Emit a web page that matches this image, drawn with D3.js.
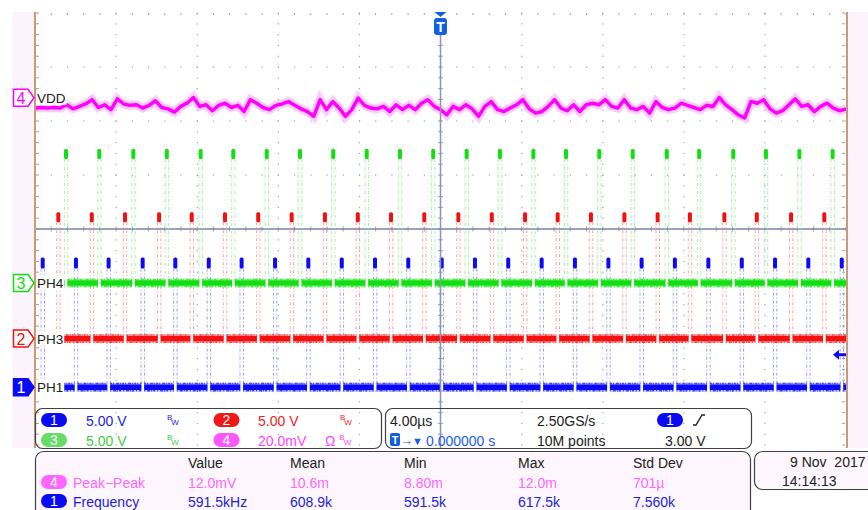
<!DOCTYPE html>
<html><head><meta charset="utf-8">
<script src="https://cdnjs.cloudflare.com/ajax/libs/d3/7.8.5/d3.min.js"></script>
<style>
body{margin:0;background:#fff;}
text{font-family:"Liberation Sans",Arial,sans-serif;}
</style></head><body>
<script>
// pulse centres in µs (trigger = 0)
var ph1Pulses = [-19.62,-17.98,-16.37,-14.69,-13.08,-11.43,-9.81,-8.16,-6.52,-4.87,-3.23,-1.59,0.06,1.70,3.34,4.99,6.63,8.28,9.92,11.56,13.21,14.86,16.50,18.14,19.79];
var ph3Pulses = [-18.85,-17.20,-15.56,-13.88,-12.27,-10.63,-8.99,-7.34,-5.70,-4.08,-2.44,-0.80,0.88,2.53,4.17,5.78,7.42,9.07,10.71,12.30,14.00,15.60,17.29,18.93];
var ph4Pulses = [-18.47,-16.83,-15.15,-13.50,-11.83,-10.22,-8.57,-6.93,-5.29,-3.64,-2.00,-0.36,1.29,2.93,4.58,6.19,7.83,9.48,11.16,12.76,14.44,16.05,17.70,19.34];
// VDD ripple, mV, sampled evenly across the screen
var vddRipple = [-3.8,-3.6,-3.8,-3.6,-3.8,-2.6,-4.1,-3.2,-2.3,-0.7,-3.6,-2.6,-4.4,-0.4,-2.3,-2.8,-2.6,-3.8,-2.8,-1.1,-3.6,-4.1,-5.3,-3.2,-2.0,0.1,-3.2,-2.6,-4.8,-2.8,-2.0,-3.6,-2.8,-5.1,-0.7,-2.0,-3.6,-4.4,-2.8,-2.3,-1.4,-2.8,-4.1,-5.1,
  -6.9,-0.7,-4.4,-1.4,-3.8,-6.9,-4.4,-0.1,-2.8,-3.8,-4.1,-3.2,-5.1,-2.6,-4.4,-2.8,-4.4,-2.0,-0.7,-3.2,-4.4,-6.3,-3.2,-4.4,-2.6,-4.1,-6.9,-3.2,-1.4,-4.4,-5.1,-3.8,-2.6,-0.7,-4.1,-5.7,-5.1,-3.2,-0.7,-3.8,-4.8,-2.6,
  -5.1,-2.6,-2.0,-2.6,-0.7,-3.2,-3.8,-0.7,-3.8,-4.4,-3.2,-5.7,-1.4,-3.6,-4.4,-3.8,-2.0,-2.8,-3.6,-4.4,-2.8,-3.2,0.1,-2.6,-4.4,-6.3,-7.5,-1.4,-2.0,-0.7,-4.1,-5.7,-4.8,-2.6,-0.4,-3.2,-2.6,-5.1,-3.2,-2.0,-3.8,-4.8,-4.1];
var pulseAmps = [12.0, 11.7, 12.4]; // V : PH1, PH3, PH4
var measCols = ["Value","Mean","Min","Max","Std Dev"];
var peakPeak = ["12.0mV","10.6m","8.80m","12.0m","701µ"];
var frequency = ["591.5kHz","608.9k","591.5k","617.5k","7.560k"];

var svg = d3.select("body").append("svg").attr("width",868).attr("height",510),
    x = d3.scaleLinear().domain([-20,20]).range([35,846]),
    dv = d3.scaleLinear().domain([-4,4]).range([445,13]),
    gridCol = "#9aa2be";

var chans = [
  {n:"1", name:"PH1", col:"#0a0af5", light:"#8a8aff", pos:-2.93, vdiv:5, pulses:ph1Pulses, amp:pulseAmps[0], cap:11},
  {n:"2", name:"PH3", col:"#f51010", light:"#ff8f8f", pos:-2.03, vdiv:5, pulses:ph3Pulses, amp:pulseAmps[1], cap:10},
  {n:"3", name:"PH4", col:"#10e010", light:"#90f590", pos:-1.0, vdiv:5, pulses:ph4Pulses, amp:pulseAmps[2], cap:10}
];
var vdd = {n:"4", name:"VDD", col:"#ff00ff", light:"#ff99ff", pos:2.43, vdiv:20};

function yv(ch, v) { return dv(ch.pos + v / ch.vdiv); }

// side strips
svg.append("rect").attr("x",13).attr("y",12).attr("width",22).attr("height",436).attr("fill","#fdf3fd");
svg.append("rect").attr("x",847).attr("y",12).attr("width",21).attr("height",436).attr("fill","#fdf3fd");

// graticule
var grid = svg.append("g").attr("fill",gridCol);
var minorT = d3.range(-20,20.01,0.8), minorV = d3.range(-4,4.01,0.2);
d3.range(-16,17,4).forEach(function(t) {
  if (t === 0) return;
  minorV.forEach(function(v){ grid.append("rect").attr("x",x(t)-0.5).attr("y",dv(v)-0.5).attr("width",1.2).attr("height",1.2); });
});
d3.range(-3,4,1).forEach(function(v) {
  if (v === 0) return;
  minorT.forEach(function(t){ grid.append("rect").attr("x",x(t)-0.5).attr("y",dv(v)-0.5).attr("width",1.2).attr("height",1.2); });
});
minorV.forEach(function(v){
  grid.append("rect").attr("x",36).attr("y",dv(v)-0.5).attr("width",3).attr("height",1);
  grid.append("rect").attr("x",842).attr("y",dv(v)-0.5).attr("width",3).attr("height",1);
  grid.append("rect").attr("x",x(0)-2.5).attr("y",dv(v)-0.5).attr("width",5).attr("height",1);
});
minorT.forEach(function(t){
  grid.append("rect").attr("x",x(t)-0.5).attr("y",13).attr("width",1).attr("height",2);
  grid.append("rect").attr("x",x(t)-0.5).attr("y",dv(0)-2.5).attr("width",1).attr("height",5);
});

svg.append("line").attr("x1",35).attr("x2",846).attr("y1",dv(0)).attr("y2",dv(0))
  .attr("stroke","#7a84a0").attr("stroke-width",1.5);

// faint edges of the pulses
chans.forEach(function(ch) {
  var g = svg.append("g").attr("stroke",ch.light).attr("stroke-width",1).attr("opacity",0.85).attr("stroke-dasharray","3,2,1,2");
  ch.pulses.forEach(function(t) {
    [-1.6, 1.8].forEach(function(o) {
      g.append("line").attr("x1",x(t)+o).attr("x2",x(t)+o)
        .attr("y1",yv(ch,ch.amp)+ch.cap).attr("y2",yv(ch,0));
    });
  });
});

// baselines with small gaps at each pulse
chans.forEach(function(ch) {
  var segs = [], s = 35;
  ch.pulses.forEach(function(t){ if (x(t)-1.3 > s) segs.push([s, x(t)-1.3]); s = x(t)+1.5; });
  if (s < 846) segs.push([s, 846]);
  var y0 = yv(ch,0);
  var g = svg.append("g");
  function seg(dy, col, w, op, dash) {
    g.append("g").selectAll("line").data(segs).enter().append("line")
      .attr("x1",function(d){return d[0];}).attr("x2",function(d){return d[1];})
      .attr("y1",y0+dy).attr("y2",y0+dy).attr("stroke",col).attr("stroke-width",w)
      .attr("opacity",op).attr("stroke-dasharray",dash || null);
  }
  seg(0, ch.light, 9, 0.5);
  seg(0, ch.col, 5.5, 1);
  seg(-3.6, ch.col, 1.5, 0.7, "2,1,1,2,3,1,1,1");
  seg(3.6, ch.col, 1.5, 0.7, "1,2,3,1,1,1,2,2");
  g.append("g").selectAll("rect").data(ch.pulses).enter().append("rect")
    .attr("x",function(t){return x(t)-2;}).attr("y",yv(ch,ch.amp))
    .attr("width",4).attr("height",ch.cap).attr("rx",1.5).attr("fill",ch.col);
});

// VDD trace
var tStep = 40 / (vddRipple.length - 1);
var vline = d3.line().x(function(d,i){ return x(-20 + i*tStep); }).y(function(d){ return yv(vdd,d); });
svg.append("path").attr("d",vline(vddRipple)).attr("fill","none").attr("stroke",vdd.light).attr("stroke-width",9).attr("opacity",0.5);
svg.append("path").attr("d",vline(vddRipple)).attr("fill","none").attr("stroke",vdd.col).attr("stroke-width",3.5).attr("stroke-linejoin","round");

// borders and centre line
svg.append("line").attr("x1",35).attr("x2",35).attr("y1",12).attr("y2",448).attr("stroke","#c89a76").attr("stroke-width",2);
svg.append("line").attr("x1",847).attr("x2",847).attr("y1",12).attr("y2",448).attr("stroke","#c89a76").attr("stroke-width",2);
svg.append("line").attr("x1",x(0)).attr("x2",x(0)).attr("y1",34).attr("y2",448).attr("stroke","#8a94aa").attr("stroke-width",1.5);

// channel markers and names
chans.concat([vdd]).forEach(function(ch) {
  var y = yv(ch,0);
  var filled = ch.n === "1";
  svg.append("path").attr("d","M13.5,"+(y-8.5)+"H28L34,"+y+"L28,"+(y+8.5)+"H13.5Z")
    .attr("fill",filled ? ch.col : "#fff").attr("stroke",ch.col).attr("stroke-width",1.5);
  svg.append("text").attr("x",21).attr("y",y+6).attr("text-anchor","middle")
    .attr("font-size",16).attr("fill",filled ? "#fff" : ch.col).text(ch.n);
  var lbl = svg.append("text").attr("x",37).attr("y",y+5).attr("font-size",13.5).attr("fill","#202020").text(ch.name);
  var w = lbl.node().getComputedTextLength();
  svg.insert("rect", function(){ return lbl.node(); }).attr("x",36).attr("y",y-7).attr("width",w+2).attr("height",14).attr("fill","#fff");
});

// trigger position marker and trigger level arrow
svg.append("path").attr("d","M"+(x(0)-6)+",12L"+(x(0)+6)+",12L"+x(0)+",17Z").attr("fill","#1060e0");
svg.append("rect").attr("x",x(0)-6.5).attr("y",18).attr("width",13).attr("height",17).attr("rx",3).attr("fill","#1060e0");
svg.append("text").attr("x",x(0)).attr("y",32).attr("text-anchor","middle").attr("font-size",14).attr("font-weight","bold").attr("fill","#fff").text("T");
var trigY = yv(chans[0], 3.0);
svg.append("path").attr("d","M833,"+trigY+"l6,-5v3.5h7v3h-7v3.5Z").attr("fill","#0a0af5");

// panels
function pill(cx, cy, fill, label) {
  svg.append("rect").attr("x",cx-13).attr("y",cy-7).attr("width",26).attr("height",14).attr("rx",7).attr("fill",fill);
  svg.append("text").attr("x",cx).attr("y",cy+5).attr("text-anchor","middle").attr("font-size",14).attr("fill","#fff").text(label);
}
function txt(xx, yy, s, col, size) {
  return svg.append("text").attr("x",xx).attr("y",yy).attr("font-size",size || 14).attr("fill",col).text(s);
}
function bw(xx, yy, col, pre) {
  var t = svg.append("text").attr("x",xx).attr("y",yy-6).attr("font-size",8).attr("fill",col);
  if (pre) t.append("tspan").attr("font-size",14).attr("dy",6).text(pre + " ");
  t.append("tspan").attr("dy",pre ? -6 : 0).text("B");
  t.append("tspan").attr("dy",5).attr("dx",-1).text("W");
}
svg.append("rect").attr("x",35.5).attr("y",408.5).attr("width",346).attr("height",40).attr("rx",7).attr("fill","none").attr("stroke","#404040").attr("stroke-width",1.2);
svg.append("rect").attr("x",385.5).attr("y",408.5).attr("width",366).attr("height",40).attr("rx",7).attr("fill","none").attr("stroke","#404040").attr("stroke-width",1.2);
svg.append("rect").attr("x",35.5).attr("y",451.5).attr("width",715).attr("height",70).attr("rx",8).attr("fill","#fdf7fd").attr("stroke","#404040").attr("stroke-width",1.2);
svg.append("rect").attr("x",754.5).attr("y",451.5).attr("width",125).attr("height",38).attr("rx",8).attr("fill","#fdf7fd").attr("stroke","#404040").attr("stroke-width",1.2);

pill(54, 420, "#0a0af5", "1"); txt(86, 426, "5.00 V", "#1a1ae8"); bw(167, 426, "#1a1ae8");
pill(226.5, 420, "#f01818", "2"); txt(258, 426, "5.00 V", "#ee2222"); bw(340, 426, "#ee2222");
pill(54, 440, "#66dd66", "3"); txt(86, 446, "5.00 V", "#44cc44"); bw(167, 446, "#44cc44");
pill(226.5, 440, "#ff55ff", "4"); txt(258, 446, "20.0mV", "#ff44ff"); bw(325, 446, "#ff44ff", "Ω");

txt(390, 426, "4.00µs", "#202020"); txt(537, 426, "2.50GS/s", "#202020");
pill(670, 420, "#0a0af5", "1");
svg.append("path").attr("d","M693,425h3l6,-10h3").attr("fill","none").attr("stroke","#202020").attr("stroke-width",1.4);
svg.append("rect").attr("x",390).attr("y",433).attr("width",10).attr("height",13).attr("rx",2).attr("fill","#1060e0");
txt(395, 444, "T", "#fff", 11).attr("text-anchor","middle").attr("font-weight","bold");
txt(400, 445, "→", "#1a5cf0", 13); txt(412, 445, "▼", "#1a5cf0", 11);
txt(426, 446, "0.000000 s", "#1a5cf0");
txt(537, 446, "10M points", "#202020"); txt(665, 446, "3.00 V", "#202020");

var colX = [188, 290, 404, 518, 633];
measCols.forEach(function(c,i){ txt(colX[i], 468, c, "#202020"); });
pill(54, 482, "#ff66ff", "4"); txt(73, 488, "Peak\u2212Peak", "#ff66ff");
peakPeak.forEach(function(c,i){ txt(colX[i], 488, c, "#ff66ff"); });
pill(54, 501, "#0a0af5", "1"); txt(73, 507, "Frequency", "#1c1cd8");
frequency.forEach(function(c,i){ txt(colX[i], 507, c, "#1c1cd8"); });

txt(790, 467, "9 Nov  2017", "#202020").style("white-space","pre");
txt(782, 486, "14:14:13", "#202020");
</script>
</body></html>
